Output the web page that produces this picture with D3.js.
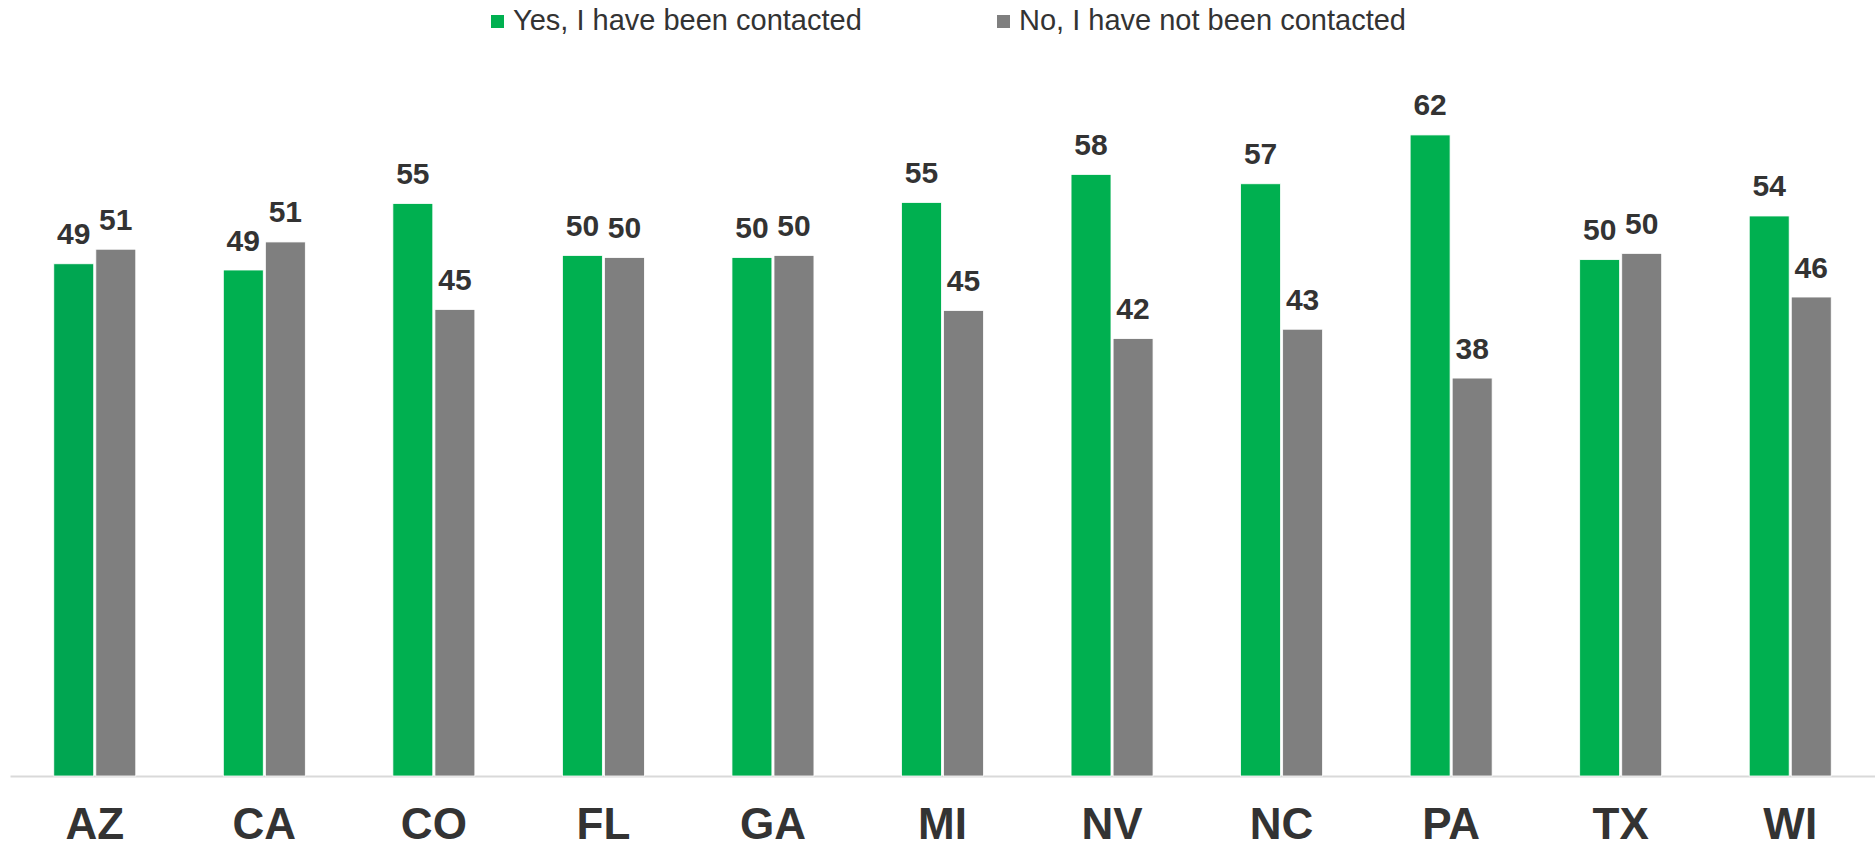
<!DOCTYPE html>
<html>
<head>
<meta charset="utf-8">
<script src="https://cdn.jsdelivr.net/npm/d3@7"></script>
<style>
  html, body { margin: 0; padding: 0; background: #fff; }
  svg { display: block; font-family: "Liberation Sans", Arial, sans-serif; }
</style>
</head>
<body>
<svg id="chart"></svg>
<script>
// data
const states = ['AZ', 'CA', 'CO', 'FL', 'GA', 'MI', 'NV', 'NC', 'PA', 'TX', 'WI']
const contacted = [49.3, 48.7, 55.1, 50.1, 49.9, 55.2, 57.9, 57.0, 61.7, 49.7, 53.9]
const notContacted = [50.7, 51.4, 44.9, 49.9, 50.1, 44.8, 42.1, 43.0, 38.3, 50.3, 46.1]
const seriesNames = ['Yes, I have been contacted', 'No, I have not been contacted']

const w = 1875
const h = 848
const baseY = 776
const green = '#00B050'
const greenDark = '#00A651'
const grey = '#7F7F7F'
const textCol = '#333333'

const svg = d3.select('#chart')
  .attr('width', w)
  .attr('height', h)

const rows = states.map((s, i) => ({
  state: s,
  vals: [
    { key: 0, state: s, v: contacted[i] },
    { key: 1, state: s, v: notContacted[i] }
  ]
}))

// scales
const x0 = d3.scaleBand()
  .domain(states)
  .range([10, w])
const x1 = d3.scaleBand()
  .domain([0, 1])
  .range([-41, 41])
  .paddingInner(0.05)
const y = d3.scaleLinear()
  .domain([0, 70])
  .range([baseY, baseY - 70 * 10.39])

// axis
const xAxis = d3.axisBottom(x0)
  .tickSize(0)
  .tickPadding(32)
const gx = svg.append('g')
  .attr('transform', `translate(0, ${baseY})`)
  .call(xAxis)
gx.select('.domain')
  .attr('stroke', '#d9d9d9')
  .attr('stroke-width', 2)
gx.selectAll('text')
  .attr('fill', textCol)
  .style('font-size', '44px')
  .style('font-weight', 'bold')
  .style('font-family', '"Liberation Sans", Arial, sans-serif')

// bars
const groups = svg.selectAll('.grp')
  .data(rows)
  .enter()
  .append('g')
  .attr('class', 'grp')
  .attr('transform', d => `translate(${x0(d.state) + x0.bandwidth() / 2}, 0)`)

groups.selectAll('rect')
  .data(d => d.vals)
  .enter()
  .append('rect')
  .attr('x', d => x1(d.key))
  .attr('y', d => y(d.v))
  .attr('width', x1.bandwidth())
  .attr('height', d => baseY - y(d.v))
  .attr('fill', d => d.key === 1 ? grey : (d.state === 'AZ' ? greenDark : green))
  .attr('stroke', '#fff')
  .attr('stroke-width', 0.8)

groups.selectAll('text.val')
  .data(d => d.vals)
  .enter()
  .append('text')
  .attr('class', 'val')
  .attr('x', d => x1(d.key) + x1.bandwidth() / 2)
  .attr('y', d => y(d.v) - 19.5)
  .attr('text-anchor', 'middle')
  .attr('fill', textCol)
  .style('font-size', '30px')
  .style('font-weight', 'bold')
  .text(d => Math.round(d.v))

// legend
const legendX = [491, 997]
const legend = svg.selectAll('.leg')
  .data(seriesNames)
  .enter()
  .append('g')
  .attr('class', 'leg')
  .attr('transform', (d, i) => `translate(${legendX[i]}, 0)`)
legend.append('rect')
  .attr('x', 0)
  .attr('y', 15)
  .attr('width', 13)
  .attr('height', 13)
  .attr('fill', (d, i) => i === 0 ? green : grey)
legend.append('text')
  .attr('x', 22)
  .attr('y', 30)
  .attr('fill', textCol)
  .style('font-size', '29px')
  .text(d => d)
</script>
</body>
</html>
